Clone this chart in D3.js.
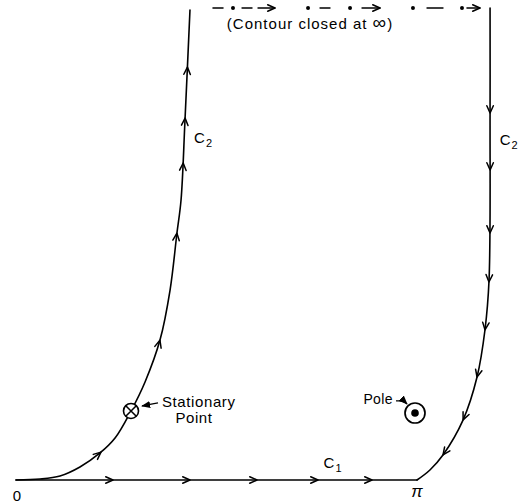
<!DOCTYPE html>
<html>
<head>
<meta charset="utf-8">
<title>Contour closed at infinity</title>
<style>
body { margin: 0; background: #fff; }
svg text { font-family: "Liberation Sans", Arial, sans-serif; fill: #000; }
</style>
<script src="https://cdn.jsdelivr.net/npm/d3@7"></script>
</head>
<body>
<svg width="522" height="504"></svg>
<script>
// contour C2, left branch (from 0 upwards), in plot units (x: 0..pi, y: height)
var leftC2X = [0, 0.188, 0.345, 0.501, 0.658, 0.776, 0.901, 1.011, 1.128, 1.207, 1.261, 1.293, 1.324, 1.363];
var leftC2Y = [0, 0.008, 0.034, 0.110, 0.229, 0.356, 0.585, 0.831, 1.186, 1.610, 2.093, 2.373, 3.051, 3.983];
// contour C2, right branch (from the top down to pi)
var rightC2X = [3.714, 3.714, 3.706, 3.674, 3.612, 3.502, 3.345, 3.243, 3.1416];
var rightC2Y = [4.0, 3.110, 1.695, 1.271, 0.873, 0.508, 0.212, 0.085, 0];
// contour C1 along the real axis
var c1X = [0, Math.PI];
// arrow positions
var leftArrowsY = [0.237, 1.186, 2.093, 2.686, 3.068, 3.5];
var rightArrowsY = [3.110, 2.627, 2.093, 1.678, 1.271, 0.873, 0.508, 0.212];
var c1ArrowsX = [0.760, 1.363, 1.888, 2.366, 2.789];
// dash-dot line at infinity
var topY = 4.0;
var topDashes = [[1.543, 1.622], [1.771, 1.849], [2.382, 2.460], [3.220, 3.345]];
var topArrows = [[1.896, 2.029], [2.711, 2.852], [3.533, 3.635]];
var topDots = [1.700, 2.288, 2.617, 3.110, 3.494];
// special points
var stationary = {x: 0.901, y: 0.585};
var pole = {x: 3.126, y: 0.568};

var svg = d3.select("svg");

var x = d3.scaleLinear().domain([0, Math.PI]).range([16, 417]);
var y = d3.scaleLinear().domain([0, 4]).range([480, 8]);

var line = d3.line()
  .x(function(d) { return x(d[0]); })
  .y(function(d) { return y(d[1]); })
  .curve(d3.curveCatmullRom.alpha(0.5));

var g = svg.append("g")
  .attr("fill", "none")
  .attr("stroke", "#000")
  .attr("stroke-width", 1.6)
  .attr("stroke-linecap", "round")
  .attr("stroke-linejoin", "round");

function arrowHead(px, py, ang) {
  var L = 8, a = 0.42;
  var p1 = [px - L * Math.cos(ang - a), py - L * Math.sin(ang - a)];
  var p2 = [px - L * Math.cos(ang + a), py - L * Math.sin(ang + a)];
  g.append("path")
    .attr("d", "M" + p1 + "L" + [px, py] + "L" + p2)
    .attr("stroke-width", 1.5);
}

function samplePath(node) {
  var n = node.getTotalLength(), pts = [];
  for (var s = 0; s <= n; s += 0.5) pts.push(node.getPointAtLength(s));
  return pts;
}

function arrowsAlong(node, targets, key, scale) {
  var pts = samplePath(node);
  targets.forEach(function(t) {
    var v = scale(t), best = 0;
    pts.forEach(function(p, i) {
      if (Math.abs(p[key] - v) < Math.abs(pts[best][key] - v)) best = i;
    });
    var a = pts[Math.max(0, best - 4)], b = pts[Math.min(pts.length - 1, best + 4)];
    arrowHead(pts[best].x, pts[best].y, Math.atan2(b.y - a.y, b.x - a.x));
  });
}

// left C2
var leftPath = g.append("path")
  .attr("d", line(leftC2X.map(function(v, i) { return [v, leftC2Y[i]]; })));
arrowsAlong(leftPath.node(), leftArrowsY, "y", y);

// right C2
var rightPath = g.append("path")
  .attr("d", line(rightC2X.map(function(v, i) { return [v, rightC2Y[i]]; })));
arrowsAlong(rightPath.node(), rightArrowsY, "y", y);

// C1
var c1Path = g.append("path")
  .attr("d", line(c1X.map(function(v) { return [v, 0]; })));
arrowsAlong(c1Path.node(), c1ArrowsX, "x", x);

// contour closed at infinity
topDashes.forEach(function(d) {
  g.append("line").attr("x1", x(d[0])).attr("x2", x(d[1]))
    .attr("y1", y(topY)).attr("y2", y(topY)).attr("stroke-width", 1.4);
});
topArrows.forEach(function(d) {
  g.append("line").attr("x1", x(d[0])).attr("x2", x(d[1]))
    .attr("y1", y(topY)).attr("y2", y(topY)).attr("stroke-width", 1.4);
  arrowHead(x(d[1]), y(topY), 0);
});
svg.selectAll("circle.dot").data(topDots).enter().append("circle")
  .attr("class", "dot")
  .attr("cx", function(d) { return x(d); })
  .attr("cy", y(topY))
  .attr("r", 2);

// stationary point: circle with a cross
var sx = x(stationary.x), sy = y(stationary.y), sr = 7.5;
svg.append("circle").attr("cx", sx).attr("cy", sy).attr("r", sr)
  .attr("fill", "#fff").attr("stroke", "#000").attr("stroke-width", 1.6);
var k = sr * 0.7;
svg.append("path")
  .attr("d", "M" + [sx - k, sy - k] + "L" + [sx + k, sy + k] + "M" + [sx - k, sy + k] + "L" + [sx + k, sy - k])
  .attr("stroke", "#000").attr("stroke-width", 1.5).attr("fill", "none");

// pole
var qx = x(pole.x), qy = y(pole.y);
svg.append("circle").attr("cx", qx).attr("cy", qy).attr("r", 10)
  .attr("fill", "none").attr("stroke", "#000").attr("stroke-width", 1.7);
svg.append("circle").attr("cx", qx).attr("cy", qy).attr("r", 3.8).attr("fill", "#000");

// pointer arrows
var defs = svg.append("defs");
defs.append("marker").attr("id", "tri").attr("viewBox", "0 0 10 10")
  .attr("refX", 9).attr("refY", 5).attr("markerWidth", 7).attr("markerHeight", 7)
  .attr("orient", "auto")
  .append("path").attr("d", "M0,1L10,5L0,9Z").attr("fill", "#000");

svg.append("path")
  .attr("d", "M" + [sx + 27, sy - 8] + "L" + [sx + 11, sy - 5])
  .attr("stroke", "#000").attr("stroke-width", 1.3).attr("fill", "none")
  .attr("marker-end", "url(#tri)");
svg.append("path")
  .attr("d", "M" + [qx - 19, qy - 12] + "Q" + [qx - 12, qy - 13] + " " + [qx - 8, qy - 9])
  .attr("stroke", "#000").attr("stroke-width", 1.3).attr("fill", "none")
  .attr("marker-end", "url(#tri)");

// labels
function label(tx, ty, txt, size, anchor) {
  return svg.append("text").attr("x", tx).attr("y", ty)
    .attr("font-size", size).attr("text-anchor", anchor || "start").text(txt);
}
function subLabel(tx, ty, main, sub) {
  var t = svg.append("text").attr("x", tx).attr("y", ty).attr("font-size", 15);
  t.append("tspan").text(main);
  t.append("tspan").attr("font-size", 11).attr("dy", 4).attr("dx", 1).text(sub);
  return t;
}

label(x(0) + 1, 501, "0", 15, "middle");
label(x(Math.PI), 497, "π", 17, "middle").attr("font-style", "italic");

var closedLabel = label(310, 29, "", 15, "middle").attr("letter-spacing", 1);
closedLabel.append("tspan").text("(Contour closed at ");
closedLabel.append("tspan").attr("font-size", 19).text("∞");
closedLabel.append("tspan").text(")");

label(sx + 31, sy - 4, "Stationary", 15, "start").attr("letter-spacing", 0.6);
label(sx + 63, sy + 12, "Point", 15, "middle").attr("letter-spacing", 0.6);
label(qx - 22, qy - 9, "Pole", 14, "end").attr("letter-spacing", 0.4);
subLabel(x(1.395), y(2.86), "C", "2");
subLabel(x(3.79), y(2.84), "C", "2");
subLabel(x(2.41), y(0.1), "C", "1");
</script>
</body>
</html>
